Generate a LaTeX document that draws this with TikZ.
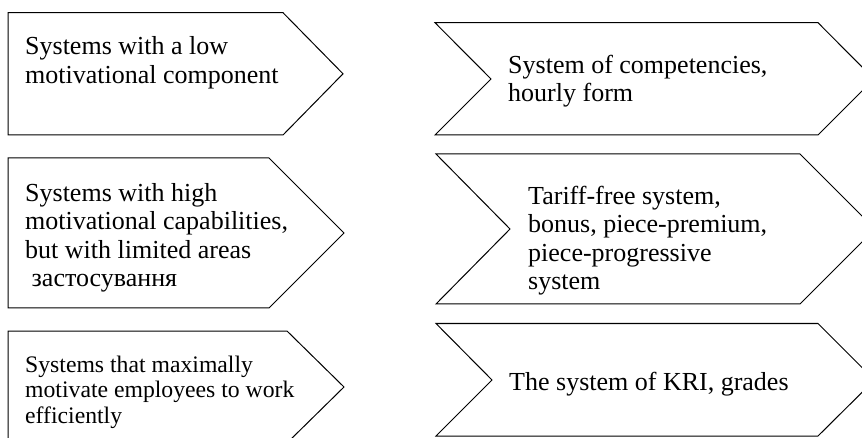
\documentclass[tikz,border=0pt]{standalone}
\usepackage{fontspec}
\setmainfont{Liberation Serif}
\tikzset{
  shapeline/.style={draw=black, line width=1pt, line join=miter},
  lbl/.style={inner sep=0pt, anchor=base west, align=left, font=\fontsize{26}{28.6}\selectfont},
  lblsmall/.style={lbl, font=\fontsize{23.7}{25.2}\selectfont}
}
\begin{document}
\begin{tikzpicture}[x=1pt,y=-1pt]
\useasboundingbox (0,0) rectangle (862,438);
\begin{scope}
\clip (0,0) rectangle (862,438);
% left column
\draw[shapeline] (8,12.7) -- (283,12.7) -- (343,73.8) -- (283,135) -- (8,135) -- cycle;
\draw[shapeline] (8,158) -- (269,158) -- (344,233) -- (269,308) -- (8,308) -- cycle;
\draw[shapeline] (8,331) -- (287,331) -- (344,387) -- (287,443) -- (8,443) -- cycle;
% right column
\draw[shapeline] (435,22.7) -- (818,22.7) -- (874,79) -- (818,135) -- (435,135) -- (491,79) -- cycle;
\draw[shapeline] (436,154) -- (800,154) -- (875,229) -- (800,304) -- (436,304) -- (510,229) -- cycle;
\draw[shapeline] (436,323.5) -- (818,323.5) -- (874.5,380) -- (818,436) -- (436,436) -- (492,380) -- cycle;
\end{scope}
% texts (anchored at the baseline of the last line)
\node[lbl] (t1) at (25,83.5) {Systems with a low\\motivational component};
\node[lbl] (t2) at (25,287) {Systems with high\\motivational capabilities,\\but with limited areas\\\ застосування};
\node[lblsmall] (t3) at (25,423) {Systems that maximally\\motivate employees to work\\efficiently};
\node[lbl] (t4) at (508,101.7) {System of competencies,\\hourly form};
\node[lbl] (t5) at (528,290) {Tariff-free system,\\bonus, piece-premium,\\piece-progressive\\system};
\node[lbl] (t6) at (509,390) {The system of KRI, grades};
\end{tikzpicture}
\end{document}
